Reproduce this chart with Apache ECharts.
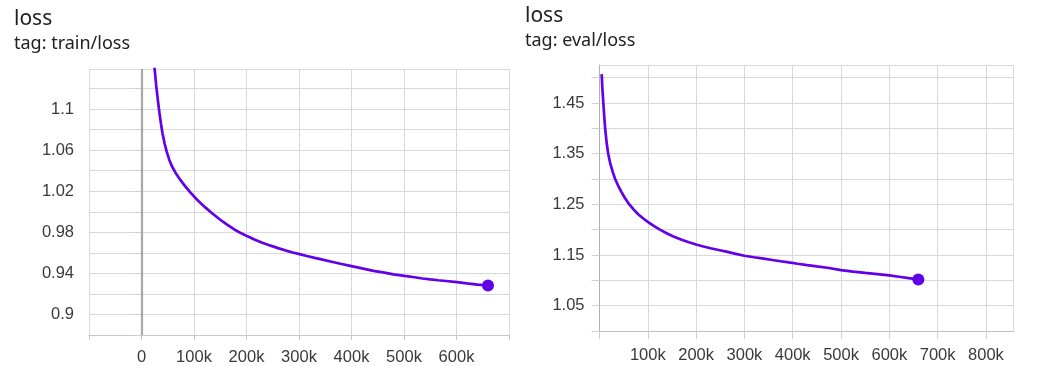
<!DOCTYPE html>
<html>
<head>
<meta charset="utf-8">
<script src="https://cdn.jsdelivr.net/npm/echarts@6/dist/echarts.min.js"></script>
<style>
html,body{margin:0;padding:0;background:#fff;}
#chart{width:1049px;height:366px;}
</style>
</head>
<body>
<div id="chart"></div>
<script>
// train/loss: steps (k) and values
var trainSteps = [20,22,25,28,31,34,37,40,44,48,53,58,65,74,83,93,105,115,122,135,150,163,176,190,201,215,230,246,260,275,290,301,315,330,347,360,379,400,420,442,460,480,501,520,535,550,565,580,601,620,640,660];
var trainLoss  = [1.172,1.155,1.139,1.123,1.1095,1.097,1.086,1.0765,1.0665,1.0585,1.0505,1.0443,1.0378,1.0310,1.0250,1.0188,1.0122,1.0072,1.0040,0.9983,0.9922,0.9874,0.9830,0.9790,0.9763,0.9730,0.9699,0.9670,0.9646,0.9622,0.9601,0.9587,0.9569,0.9551,0.9531,0.9516,0.9494,0.9471,0.9449,0.9425,0.9409,0.9391,0.9375,0.9362,0.9350,0.9341,0.9333,0.9326,0.9315,0.9303,0.9291,0.9282];
// eval/loss: steps (k) and values
var evalSteps = [4.5,6,8,10,12,15,18,22,27,32,38,45,52,60,70,80,90,100,113,126,140,153,170,185,200,215,230,249,265,280,300,320,340,358,375,392,410,430,450,475,500,525,550,575,600,620,640,660];
var evalLoss  = [1.507,1.478,1.449,1.421,1.397,1.370,1.350,1.332,1.315,1.301,1.288,1.275,1.2635,1.252,1.2405,1.2305,1.2225,1.2155,1.207,1.1995,1.1925,1.1865,1.1800,1.1750,1.1706,1.1668,1.1633,1.1594,1.1561,1.1527,1.1486,1.1456,1.1427,1.1401,1.1377,1.1353,1.1328,1.1301,1.1275,1.1243,1.1200,1.1173,1.1147,1.1122,1.1097,1.1070,1.1043,1.1018];
// axis ticks
var trainXTicks = {min:-100000, max:700000, step:100000};
var trainYTicks = {min:0.88, max:1.139, step:0.02};
var evalXTicks  = {min:0, max:857000, step:100000};
var evalYTicks  = {min:1.0, max:1.525, step:0.05};

function pairs(xs, ys){ return xs.map(function(x,i){ return [x*1000, ys[i]]; }); }
var trainData = pairs(trainSteps, trainLoss);
var evalData = pairs(evalSteps, evalLoss);

var lineColor = '#6200ea';
var labelFont = {color:'#3a3a3a', fontSize:16.5, fontFamily:'Liberation Sans, Arial, sans-serif'};
var gridColor = '#d9d9d9';

function kFmt(v){ return (Math.round(v/1000)) + 'k'; }
function onStep(v, step){ var r = v/step; return Math.abs(r - Math.round(r)) < 1e-6; }

var titleStyle = {fontSize:21, fontWeight:'normal', color:'#212121', fontFamily:'Noto Sans'};
var subStyle = {fontSize:18, color:'#212121', fontFamily:'Noto Sans'};

var chart = echarts.init(document.getElementById('chart'), null, {renderer:'canvas'});
chart.setOption({
  animation:false,
  title:[
    {text:'loss', subtext:'tag: train/loss', left:14, top:9, padding:0, itemGap:5,
     textStyle:titleStyle, subtextStyle:subStyle},
    {text:'loss', subtext:'tag: eval/loss', left:525, top:6, padding:0, itemGap:5,
     textStyle:titleStyle, subtextStyle:subStyle}
  ],
  grid:[
    {left:89, top:69, width:420, height:267},
    {left:599.5, top:65, width:414, height:266}
  ],
  xAxis:[
    {type:'value', gridIndex:0, min:trainXTicks.min, max:trainXTicks.max, interval:trainXTicks.step,
     axisLine:{show:true, lineStyle:{color:'#c8c8c8'}},
     axisTick:{show:true, length:5, lineStyle:{color:'#c8c8c8'}},
     splitLine:{show:true, lineStyle:{color:gridColor}},
     axisLabel:Object.assign({margin:14, showMinLabel:true, showMaxLabel:true, formatter:function(v){
        if (v === 0) return '0';
        if (v < 0 || v >= trainXTicks.max) return '';
        return kFmt(v);
     }}, labelFont)},
    {type:'value', gridIndex:1, min:evalXTicks.min, max:evalXTicks.max, interval:evalXTicks.step,
     axisLine:{show:true, lineStyle:{color:'#c0c0c0'}},
     axisTick:{show:true, length:8, lineStyle:{color:'#cfcfcf'}},
     splitLine:{show:true, lineStyle:{color:gridColor}},
     axisLabel:Object.assign({margin:16, showMaxLabel:false, formatter:function(v){
        if (v <= 0 || v > 800000) return '';
        return kFmt(v);
     }}, labelFont)}
  ],
  yAxis:[
    {type:'value', gridIndex:0, min:trainYTicks.min, max:trainYTicks.max, interval:trainYTicks.step,
     axisLine:{show:true, lineStyle:{color:'#d0d0d0'}},
     axisTick:{show:true, length:8, lineStyle:{color:'#d0d0d0'}},
     splitLine:{show:true, lineStyle:{color:gridColor}},
     axisLabel:Object.assign({margin:15, showMaxLabel:false, formatter:function(v){
        if (!onStep(v, 0.02)) return '';
        var c = Math.round(v*100);
        if (c % 4 !== 2) return '';
        return String(+v.toFixed(2));
     }}, labelFont)},
    {type:'value', gridIndex:1, min:evalYTicks.min, max:evalYTicks.max, interval:evalYTicks.step,
     axisLine:{show:true, lineStyle:{color:'#b0b0b0'}},
     axisTick:{show:true, length:8, lineStyle:{color:'#d0d0d0'}},
     splitLine:{show:true, lineStyle:{color:gridColor}},
     axisLabel:Object.assign({margin:15, showMaxLabel:false, formatter:function(v){
        if (!onStep(v, 0.05)) return '';
        var c = Math.round(v*100);
        if (c % 10 !== 5) return '';
        return v.toFixed(2);
     }}, labelFont)}
  ],
  series:[
    {type:'line', xAxisIndex:0, yAxisIndex:0, data:trainData, showSymbol:false, smooth:false,
     lineStyle:{color:lineColor, width:2.7}, itemStyle:{color:lineColor}, clip:true, z:3,
     markLine:{silent:true, symbol:'none', label:{show:false}, animation:false,
       lineStyle:{color:'#a8a8a8', width:2.2, type:'solid'}, data:[{xAxis:0}]}},
    {type:'scatter', xAxisIndex:0, yAxisIndex:0, data:[trainData[trainData.length-1]],
     symbolSize:12, itemStyle:{color:lineColor, opacity:1}, z:4},
    {type:'line', xAxisIndex:1, yAxisIndex:1, data:evalData, showSymbol:false, smooth:false,
     lineStyle:{color:lineColor, width:2.7}, itemStyle:{color:lineColor}, clip:true, z:3},
    {type:'scatter', xAxisIndex:1, yAxisIndex:1, data:[evalData[evalData.length-1]],
     symbolSize:12, itemStyle:{color:lineColor, opacity:1}, z:4}
  ]
});
</script>
</body>
</html>
